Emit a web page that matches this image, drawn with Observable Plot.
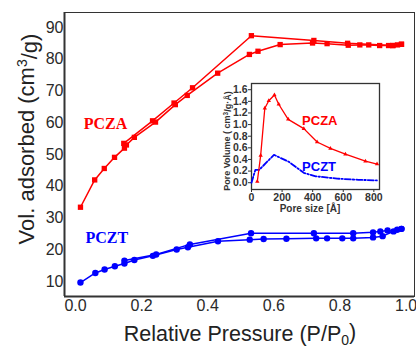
<!DOCTYPE html>
<html><head><meta charset="utf-8">
<script src="https://cdn.jsdelivr.net/npm/d3@7"></script>
<script src="https://cdn.jsdelivr.net/npm/@observablehq/plot@0.6"></script>
<style>
html,body{margin:0;padding:0;background:#fff;}
#wrap{position:relative;width:416px;height:347px;overflow:hidden;}
#wrap svg{position:absolute;}
</style></head><body><div id="wrap"></div>
<script>
// ---- main chart data ----
const xTicks = [0, 0.2, 0.4, 0.6, 0.8, 1.0];
const yTicks = [10, 20, 30, 40, 50, 60, 70, 80, 90];
const pczaAdsP = [0.015, 0.058, 0.087, 0.118, 0.148, 0.154, 0.178, 0.242, 0.302, 0.338, 0.430, 0.526, 0.552, 0.619, 0.717, 0.761, 0.825, 0.860, 0.887, 0.920, 0.947, 0.960, 0.974, 0.986];
const pczaAdsV = [33.4, 42.0, 45.6, 49.1, 52.0, 53.0, 55.4, 60.2, 65.7, 68.6, 75.6, 81.5, 82.5, 84.6, 85.1, 84.9, 84.4, 84.5, 84.5, 84.3, 84.3, 84.3, 84.5, 84.7];
const pczaDesP = [0.986, 0.960, 0.823, 0.721, 0.532, 0.354, 0.298, 0.233, 0.146];
const pczaDesV = [84.7, 84.3, 85.0, 85.9, 87.4, 71.0, 66.2, 60.6, 53.5];
const pcztAdsP = [0.015, 0.060, 0.088, 0.119, 0.148, 0.178, 0.234, 0.306, 0.340, 0.431, 0.527, 0.569, 0.638, 0.728, 0.761, 0.807, 0.840, 0.900, 0.929, 0.973, 0.986];
const pcztAdsV = [9.7, 12.7, 13.8, 14.8, 15.7, 16.8, 18.1, 20.1, 20.8, 22.7, 23.2, 23.4, 23.5, 23.6, 23.6, 23.6, 23.6, 23.9, 24.3, 26.3, 26.6];
const pcztDesP = [0.986, 0.962, 0.944, 0.922, 0.900, 0.840, 0.721, 0.531, 0.346, 0.244, 0.148];
const pcztDesV = [26.6, 25.8, 26.1, 25.8, 25.5, 25.2, 25.2, 25.2, 21.7, 18.5, 16.6];
const seriesNames = ["PCZA", "PCZT"];
const seriesLabelP = [0.025, 0.030];
const seriesLabelV = [59.7, 23.6];

// ---- inset data ----
const insetXTicks = [0, 200, 400, 600, 800];
const insetYTicks = [0, 0.2, 0.4, 0.6, 0.8, 1.0, 1.2, 1.4, 1.6];
const poreSizeA = [38, 60, 87, 113, 150, 178, 240, 342, 429, 516, 614, 745, 821];
const poreVolA = [0.02, 0.47, 1.28, 1.41, 1.51, 1.35, 1.09, 0.93, 0.70, 0.59, 0.49, 0.37, 0.32];
const poreSizeT = [0, 25, 50, 147, 244, 342, 420, 560, 700, 820];
const poreVolT = [0.0, 0.22, 0.22, 0.48, 0.36, 0.17, 0.11, 0.07, 0.05, 0.04];
const insetLabelX = [331, 331];
const insetLabelY = [1.06, 0.27];

const RED = "#ff0000", BLUE = "#0000ff";
const rows = (ps, vs, branch) => ps.map((p, i) => ({p, v: vs[i], branch}));
const pcza = [...rows(pczaAdsP, pczaAdsV, "ads"), ...rows(pczaDesP, pczaDesV, "des")];
const pczt = [...rows(pcztAdsP, pcztAdsV, "ads"), ...rows(pcztDesP, pcztDesV, "des")];
const labels = seriesNames.map((n, i) => ({n, p: seriesLabelP[i], v: seriesLabelV[i], c: i ? BLUE : RED}));

const xDom = [-0.0333, 1.0254], yDom = [5.3, 94.7];
const main = Plot.plot({
  width: 416, height: 347,
  marginLeft: 64, marginTop: 12, marginRight: 2, marginBottom: 51,
  x: {domain: xDom},
  y: {domain: yDom},
  style: {fontFamily: "'Liberation Sans', Arial, sans-serif", fontSize: "16px", color: "#2a2a2a", background: "transparent", overflow: "visible"},
  marks: [
    Plot.frame({stroke: "#333", strokeWidth: 1}),
    Plot.ruleX([xDom[0]], {stroke: "#333", strokeWidth: 2}),
    Plot.ruleY([yDom[0]], {stroke: "#333", strokeWidth: 2}),
    Plot.axisX(xTicks, {tickSize: 0, tickPadding: 3, tickFormat: d3.format(".1f"), label: null, fontSize: 16}),
    Plot.axisY(yTicks, {tickSize: 0, tickPadding: 1, label: null, fontSize: 16}),
    Plot.line(pcza, {x: "p", y: "v", z: "branch", stroke: RED, strokeWidth: 1.5}),
    Plot.dot(pcza, {x: "p", y: "v", symbol: "square", r: 3, fill: RED}),
    Plot.line(pczt, {x: "p", y: "v", z: "branch", stroke: BLUE, strokeWidth: 1.5}),
    Plot.dot(pczt, {x: "p", y: "v", symbol: "circle", r: 3.2, fill: BLUE}),
    Plot.text(labels, {x: "p", y: "v", text: "n", fill: "c", textAnchor: "start", fontFamily: "'Liberation Serif', 'Times New Roman', serif", fontWeight: "bold", fontSize: 16})
  ]
});
main.style.left = "0px"; main.style.top = "0px";
const ms = d3.select(main);
const yl = ms.append("text").attr("transform", "translate(26,139) rotate(-90)")
  .attr("text-anchor", "middle").attr("dy", "0.35em")
  .style("font-family", "'Liberation Sans', Arial, sans-serif").style("font-size", "22px").attr("fill", "#222");
yl.append("tspan").text("Vol. adsorbed (cm");
yl.append("tspan").attr("dy", "-0.45em").style("font-size", "14px").text("3");
yl.append("tspan").attr("dy", "0.45em").text("/g)");
const xl = ms.append("text").attr("x", 240).attr("y", 341)
  .attr("text-anchor", "middle")
  .style("font-family", "'Liberation Sans', Arial, sans-serif").style("font-size", "21.5px").attr("fill", "#222");
xl.append("tspan").text("Relative Pressure (P/P");
xl.append("tspan").attr("dy", "0.3em").style("font-size", "14px").text("0");
xl.append("tspan").attr("dy", "-0.3em").text(")");
document.getElementById("wrap").appendChild(main);

// ---- inset ----
const pa = poreSizeA.map((s, i) => ({s, v: poreVolA[i]}));
const pt = poreSizeT.map((s, i) => ({s, v: poreVolT[i]}));
const ilabels = seriesNames.map((n, i) => ({n, s: insetLabelX[i], v: insetLabelY[i], c: i ? BLUE : RED}));
const inset = Plot.plot({
  width: 176, height: 134,
  marginLeft: 46, marginRight: 2, marginTop: 3, marginBottom: 25,
  x: {domain: [0, 837]},
  y: {domain: [-0.117, 1.707]},
  style: {fontFamily: "'Liberation Sans', Arial, sans-serif", fontSize: "10.5px", fontWeight: "bold", color: "#333", background: "transparent", overflow: "visible"},
  marks: [
    Plot.frame({fill: "white", stroke: "#333", strokeWidth: 1.3}),
    Plot.axisX(insetXTicks, {tickSize: 3, tickPadding: 1, label: null, fontWeight: "bold"}),
    Plot.axisY(insetYTicks, {tickSize: 3, tickPadding: 1, tickFormat: d3.format(".1f"), label: null, fontWeight: "bold"}),
    Plot.line(pt, {x: "s", y: "v", stroke: BLUE, strokeWidth: 1.8, strokeDasharray: "6,2,1.5,2"}),
    Plot.line(pa, {x: "s", y: "v", stroke: RED, strokeWidth: 1.3}),
    Plot.dot(pa, {x: "s", y: "v", symbol: "triangle", r: 1.6, fill: RED}),
    Plot.text(ilabels, {x: "s", y: "v", text: "n", fill: "c", textAnchor: "start", fontSize: 13, fontWeight: "bold"})
  ]
});
inset.style.left = "205px"; inset.style.top = "80px";
const is = d3.select(inset);
const iyl = is.append("text").attr("transform", "translate(22,61) rotate(-90)")
  .attr("text-anchor", "middle").attr("dy", "0.35em")
  .style("font-size", "9px").style("font-weight", "bold").attr("fill", "#333");
iyl.append("tspan").text("Pore Volume ( cm");
iyl.append("tspan").attr("dy", "-0.4em").style("font-size", "6.5px").text("3");
iyl.append("tspan").attr("dy", "0.4em").text("/g·Å)");
is.append("text").attr("x", 105).attr("y", 132).attr("text-anchor", "middle")
  .style("font-size", "10px").style("font-weight", "bold").attr("fill", "#333").text("Pore size [Å]");
document.getElementById("wrap").appendChild(inset);
</script></body></html>
